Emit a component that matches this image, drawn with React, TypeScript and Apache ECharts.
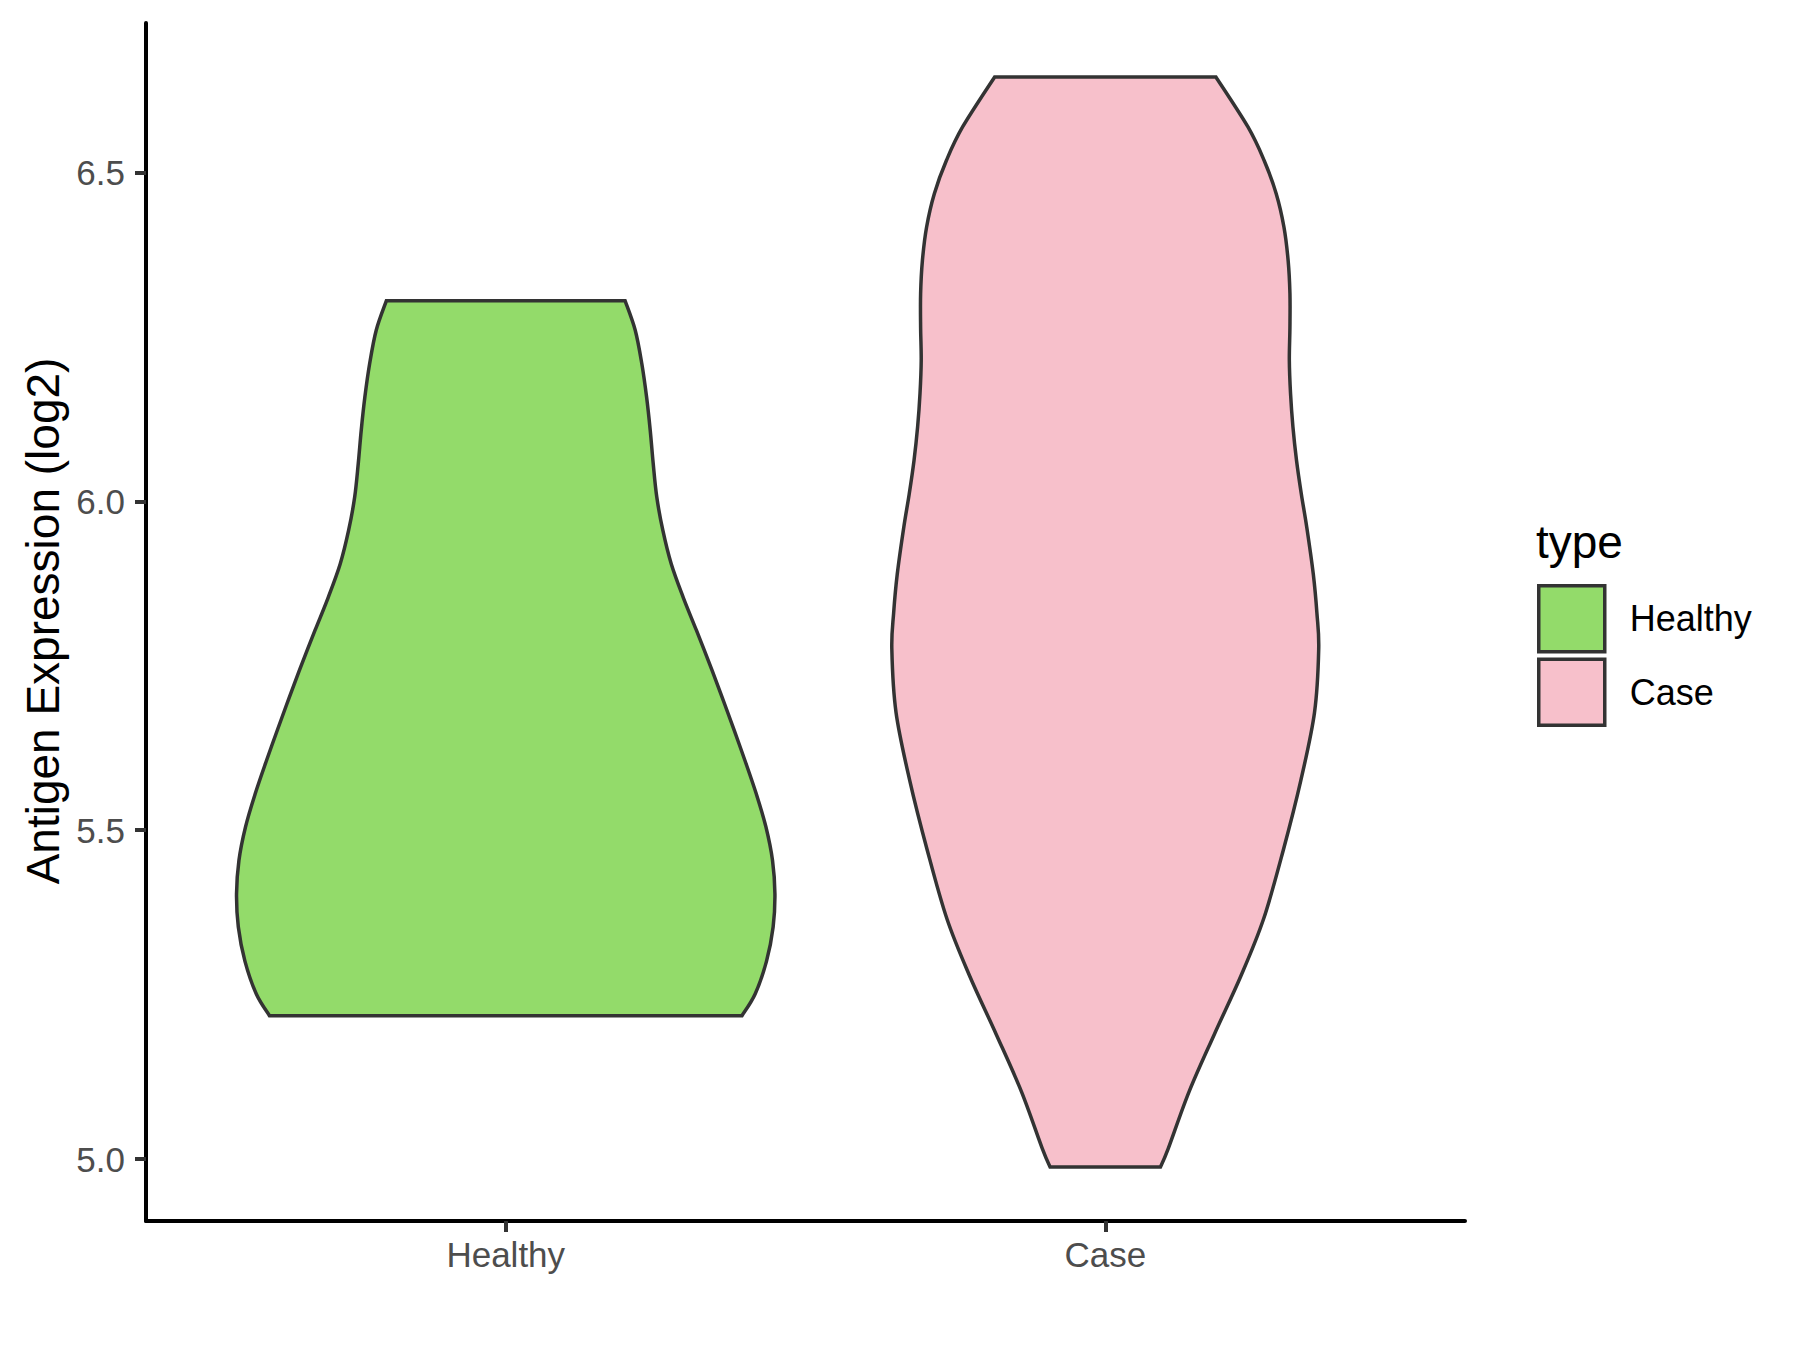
import React, { useEffect, useRef } from "react";
import * as echarts from "echarts";

const categories = ["Healthy", "Case"];
const categoryPositions = [1, 2];
const yTicks = [5.0, 5.5, 6.0, 6.5];
const fillColors = ["#93DB6A", "#F7C0CB"];

const healthyY = [5.218, 5.251, 5.301, 5.353, 5.403, 5.454, 5.505, 5.555, 5.606, 5.652, 5.702, 5.753, 5.804, 5.854, 5.905, 5.956, 6.006, 6.057, 6.108, 6.158, 6.209, 6.26, 6.305];
const healthyHalfWidth = [0.394, 0.416, 0.435, 0.446, 0.449, 0.445, 0.434, 0.418, 0.399, 0.381, 0.361, 0.34, 0.318, 0.296, 0.276, 0.262, 0.252, 0.246, 0.241, 0.235, 0.227, 0.216, 0.199];

const caseY = [4.988, 5.016, 5.103, 5.19, 5.278, 5.365, 5.47, 5.575, 5.679, 5.775, 5.83, 5.889, 5.961, 6.011, 6.062, 6.113, 6.164, 6.214, 6.265, 6.316, 6.366, 6.417, 6.468, 6.518, 6.569, 6.645];
const caseHalfWidth = [0.092, 0.105, 0.14, 0.182, 0.226, 0.264, 0.297, 0.326, 0.349, 0.356, 0.353, 0.347, 0.336, 0.327, 0.319, 0.313, 0.309, 0.307, 0.308, 0.308, 0.305, 0.298, 0.285, 0.265, 0.238, 0.1845];

const violinY = [healthyY, caseY];
const violinHW = [healthyHalfWidth, caseHalfWidth];

const FONT = "'Liberation Sans', Arial, Helvetica, sans-serif";

function catmull(points: number[][]): string {
  let d = "";
  const n = points.length;
  for (let i = 0; i < n - 1; i++) {
    const p0 = points[Math.max(0, i - 1)];
    const p1 = points[i];
    const p2 = points[i + 1];
    const p3 = points[Math.min(n - 1, i + 2)];
    const c1x = p1[0] + (p2[0] - p0[0]) / 6;
    const c1y = p1[1] + (p2[1] - p0[1]) / 6;
    const c2x = p2[0] - (p3[0] - p1[0]) / 6;
    const c2y = p2[1] - (p3[1] - p1[1]) / 6;
    d += ` C ${c1x} ${c1y} ${c2x} ${c2y} ${p2[0]} ${p2[1]}`;
  }
  return d;
}

function makeRenderItem(idx: number) {
  return (params: any, api: any) => {
    const center = api.value(0);
    const ys = violinY[idx];
    const hws = violinHW[idx];
    const left = ys.map((y, i) => api.coord([center - hws[i], y]));
    const right = ys.map((y, i) => api.coord([center + hws[i], y])).reverse();
    let d = `M ${left[0][0]} ${left[0][1]}`;
    d += catmull(left);
    d += ` L ${right[0][0]} ${right[0][1]}`;
    d += catmull(right);
    d += " Z";
    return {
      type: "path",
      shape: { pathData: d },
      style: { fill: fillColors[idx], stroke: "#333333", lineWidth: 3.5, lineJoin: "miter" },
    };
  };
}

export default function App() {
  const ref = useRef<HTMLDivElement>(null);
  useEffect(() => {
    if (!ref.current) return;
    const chart = echarts.init(ref.current, null, { renderer: "svg" });
    const option: any = {
      animation: false,
      backgroundColor: "#ffffff",
      grid: { left: 146, top: 23, right: 335, bottom: 129, containLabel: false },
      xAxis: {
        type: "value",
        min: 0.4,
        max: 2.6,
        splitLine: { show: false },
        axisLine: { show: true, lineStyle: { color: "#000000", width: 4 } },
        axisTick: {
          show: true,
          customValues: categoryPositions,
          length: 11,
          lineStyle: { color: "#333333", width: 4 },
        },
        axisLabel: {
          show: true,
          customValues: categoryPositions,
          formatter: (v: number) => categories[categoryPositions.indexOf(v)] ?? "",
          color: "#4D4D4D",
          fontSize: 35,
          fontFamily: FONT,
          margin: 16,
        },
      },
      yAxis: {
        type: "value",
        min: 4.906,
        max: 6.727,
        splitLine: { show: false },
        axisLine: { show: true, lineStyle: { color: "#000000", width: 4 } },
        axisTick: {
          show: true,
          customValues: yTicks,
          length: 11,
          lineStyle: { color: "#333333", width: 4 },
        },
        axisLabel: {
          show: true,
          customValues: yTicks,
          formatter: (v: number) => v.toFixed(1),
          color: "#4D4D4D",
          fontSize: 35,
          fontFamily: FONT,
          margin: 21,
        },
      },
      legend: {
        show: true,
        orient: "vertical",
        left: 1537,
        top: 584,
        padding: 0,
        itemWidth: 66,
        itemHeight: 66,
        itemGap: 4,
        icon: "rect",
        data: categories,
        itemStyle: { borderColor: "#333333", borderWidth: 3.5 },
        textStyle: { fontSize: 36, color: "#000000", fontFamily: FONT, padding: [0, 0, 0, 20] },
        selectedMode: false,
      },
      graphic: [
        {
          type: "text",
          x: 43,
          y: 621,
          rotation: Math.PI / 2,
          style: {
            text: "Antigen Expression (log2)",
            fontSize: 46,
            fontFamily: FONT,
            fill: "#000000",
            textAlign: "center",
            textVerticalAlign: "middle",
          },
        },
        {
          type: "text",
          x: 1536,
          y: 542,
          style: {
            text: "type",
            fontSize: 46,
            fontFamily: FONT,
            fill: "#000000",
            textAlign: "left",
            textVerticalAlign: "middle",
          },
        },
      ],
      series: categories.map((name, idx) => ({
        type: "custom",
        name,
        coordinateSystem: "cartesian2d",
        itemStyle: { color: fillColors[idx] },
        encode: { x: 0, y: 1 },
        data: [[categoryPositions[idx], violinY[idx][0]]],
        renderItem: makeRenderItem(idx),
        silent: true,
      })),
    };
    chart.setOption(option);
    return () => chart.dispose();
  }, []);
  return (
    <div
      ref={ref}
      style={{ position: "fixed", left: 0, top: 0, width: "1800px", height: "1350px", background: "#fff" }}
    />
  );
}
